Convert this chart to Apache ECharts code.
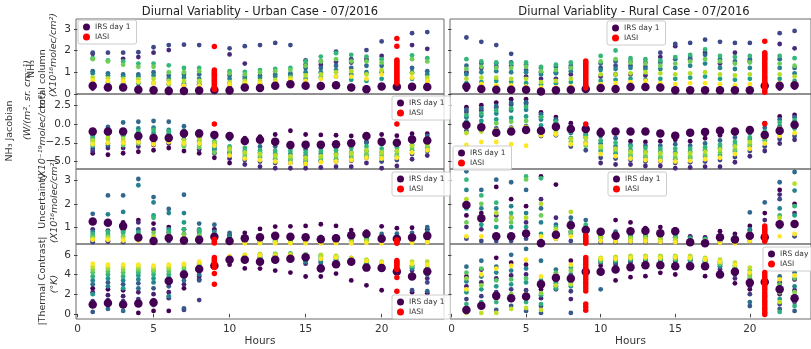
<!DOCTYPE html>
<html><head><meta charset="utf-8">
<script src="https://cdn.jsdelivr.net/npm/echarts@6/dist/echarts.min.js"></script>
<style>html,body{margin:0;padding:0;background:#fff}#c{width:811px;height:349px}</style>
</head><body><div id="c"></div><script>
// ---------------- DATA ----------------
const hours = [1,2,3,4,5,6,7,8,9,10,11,12,13,14,15,16,17,18,19,20,21,22,23];
const hourTicks = [0,5,10,15,20];
const nh3Ticks = [0,1,2,3];
const jacTicks = [-5,-2.5,0,2.5];
const uncTicks = [1,2,3];
const tcTicks = [0,2,4,6];
const iasiHours = [9,21];

// per-hour values, ordered by day (early -> late)
const urbanNH3 = [
 [0.25,1.85,1.9,1.05,0.95,0.45,1.65,1.6,0.75,0.62],
 [0.3,0.45,1.9,0.95,0.85,0.55,1.55,1.5,0.72,0.6],
 [0.3,1.62,1.9,0.9,0.8,0.5,1.5,1.35,0.7,0.58],
 [0.3,1.7,1.92,0.9,0.8,0.5,1.4,1.25,0.68,0.55],
 [0.25,1.9,2.15,1.0,0.85,0.5,1.4,1.25,0.7,0.5],
 [0.25,2.02,2.25,0.85,0.7,0.45,1.32,1.0,0.6,0.48],
 [0.2,0.4,2.27,0.9,0.75,0.5,1.2,1.0,0.6,0.38],
 [0.25,0.45,2.25,0.9,0.7,0.55,1.2,1.05,0.6,0.4],
 [],
 [0.3,1.82,2.1,0.85,0.7,0.5,1.05,0.95,0.55,0.45],
 [0.3,1.4,2.2,0.8,0.7,0.5,1.02,0.9,0.6,0.5],
 [0.3,0.4,2.25,0.85,0.75,0.5,1.1,1.0,0.6,0.5],
 [0.35,0.45,2.35,0.9,0.8,0.55,1.15,1.05,0.65,0.55],
 [0.4,0.5,2.25,0.95,0.85,0.6,1.2,1.1,0.75,0.65],
 [0.4,1.35,1.55,1.2,1.0,0.7,1.5,1.3,0.85,0.6],
 [0.45,1.35,1.5,1.2,1.0,0.75,1.72,1.5,0.9,0.7],
 [0.45,1.48,1.95,1.3,1.1,0.8,1.88,1.6,1.0,0.8],
 [0.35,1.45,1.6,1.2,0.9,0.65,1.8,1.5,1.05,0.8],
 [0.3,1.6,2.02,1.3,1.0,0.6,1.72,1.5,0.9,0.7],
 [0.4,1.75,2.42,1.3,1.0,0.7,1.6,1.45,1.1,0.9],
 [],
 [0.4,2.25,2.8,1.2,1.0,0.7,1.78,1.6,0.95,0.75],
 [0.4,2.08,2.85,1.05,0.9,0.6,1.65,1.5,0.75,0.6]
];
const urbanNH3IRS = [0.38,0.3,0.3,0.2,0.17,0.14,0.14,0.16,0.18,0.16,0.3,0.28,0.38,0.45,0.38,0.37,0.4,0.3,0.22,0.35,0.33,0.33,0.32];
const urbanNH3IASI9 = [2.18,1.1,1.04,0.97,0.92,0.86,0.79,0.74,0.67,0.61,0.56,0.49,0.43,0.38,0.31,0.26,0.21];
const urbanNH3IASI21 = [2.55,2.2,1.56,1.49,1.42,1.33,1.27,1.18,1.1,1.02,0.95,0.87,0.8,0.71,0.64,0.57,0.5];

const urbanJac = [
 [-3.9,-3.6,-3.3,-1.5,-2.0,-2.9,-1.8,-2.4,-2.2,-2.7],
 [-4.1,-3.2,-2.9,-0.4,-1.4,-2.6,-1.2,-2.0,-1.8,-2.5],
 [-3.9,-3.2,-1.5,0.2,-0.9,-2.4,-1.6,-2.8,-2.0,-2.5],
 [-3.7,-3.0,-2.2,0.3,-0.6,-1.5,-1.0,-2.6,-1.9,-2.4],
 [-3.5,-2.8,-1.8,0.4,-0.5,-1.2,-0.8,-2.5,-2.2,-2.7],
 [-3.2,-2.6,-1.5,0.3,-0.8,-1.3,-1.0,-2.3,-1.9,-2.4],
 [-3.6,-2.8,-2.0,-0.3,-0.9,-1.6,-2.5,-3.0,-2.2,-2.6],
 [-3.9,-3.4,-1.8,-1.0,-2.2,-2.8,-2.5,-3.1,-2.0,-2.6],
 [-4.5,-3.9,-3.4,-2.6,-3.0,-3.3,-2.3,-3.8,-2.5,-2.9],
 [-5.2,-4.6,-3.8,-2.0,-3.2,-4.0,-3.0,-3.6,-3.3,-4.2],
 [-1.9,-5.4,-4.8,-2.5,-3.6,-4.4,-3.2,-4.0,-3.8,-4.6],
 [-1.7,-5.7,-5.0,-3.0,-3.8,-4.5,-3.5,-4.2,-4.0,-4.8],
 [-1.4,-5.9,-5.2,-3.0,-4.0,-4.7,-3.6,-4.4,-4.2,-5.0],
 [-0.9,-5.9,-5.2,-3.2,-4.0,-4.8,-3.6,-4.6,-4.3,-5.2],
 [-1.4,-5.9,-5.3,-3.4,-4.2,-5.0,-3.8,-4.7,-4.5,-5.3],
 [-1.45,-5.8,-5.0,-3.2,-4.0,-4.8,-3.6,-4.5,-4.3,-5.1],
 [-1.5,-5.7,-5.0,-3.2,-4.0,-4.7,-3.5,-4.4,-4.1,-5.0],
 [-1.6,-5.7,-4.9,-2.6,-3.8,-4.5,-3.2,-4.2,-3.9,-4.8],
 [-2.4,-5.2,-4.5,-2.5,-3.6,-4.2,-3.0,-4.0,-3.5,-4.5],
 [-1.4,-5.9,-5.0,-2.7,-3.8,-4.6,-3.3,-4.2,-3.8,-4.6],
 [-1.55,-5.6,-4.8,-2.5,-3.6,-4.3,-3.1,-4.0,-3.6,-4.5],
 [-1.3,-4.7,-4.0,-1.8,-2.8,-3.5,-2.4,-3.2,-2.9,-3.8],
 [-1.3,-4.2,-3.6,-1.6,-2.6,-3.2,-2.2,-3.0,-2.7,-3.5]
];
const urbanJacIRS = [-1.0,-1.0,-1.0,-1.6,-1.85,-1.85,-1.25,-1.25,-1.45,-1.6,-2.25,-2.1,-2.35,-2.8,-2.75,-2.75,-2.7,-2.55,-1.6,-2.35,-2.5,-2.05,-2.2];
const urbanJacIASI9 = [0.0];
const urbanJacIASI21 = [0.0];

const urbanUnc = [
 [0.4,0.9,0.35,1.57,0.8,0.6,0.7,0.55,0.5,0.45],
 [0.38,0.85,0.4,2.36,1.55,0.7,0.8,0.6,0.52,0.45],
 [1.2,0.85,0.35,2.36,1.65,0.75,0.8,0.6,0.5,0.42],
 [1.3,1.2,0.9,3.07,2.8,0.8,0.75,0.6,0.5,0.42],
 [1.15,0.9,0.4,2.29,2.06,1.5,1.4,0.75,0.6,0.5],
 [1.0,0.75,0.4,1.78,1.6,0.9,0.8,0.65,0.55,0.45],
 [0.9,0.7,0.35,2.39,1.6,1.2,0.9,0.7,0.55,0.45],
 [0.8,0.6,0.35,1.15,0.9,0.7,0.85,0.65,0.5,0.42],
 [0.9,0.6,0.35,1.1,0.8,0.6,0.7,0.55,0.45,0.38],
 [0.65,0.5,0.35,0.75,0.6,0.45,0.5,0.42,0.38,0.32],
 [0.75,0.5,0.35,0.6,0.5,0.4,0.45,0.4,0.35,0.3],
 [0.92,0.5,0.35,0.6,0.5,0.4,0.45,0.4,0.35,0.3],
 [1.02,0.5,0.38,0.6,0.5,0.42,0.48,0.4,0.35,0.3],
 [1.03,0.5,0.38,0.62,0.5,0.42,0.48,0.4,0.35,0.3],
 [1.05,0.5,0.38,0.6,0.5,0.42,0.48,0.4,0.35,0.3],
 [1.12,0.5,0.36,0.58,0.48,0.4,0.45,0.38,0.34,0.3],
 [1.05,0.5,0.36,0.6,0.5,0.42,0.46,0.4,0.35,0.3],
 [0.87,0.55,0.38,0.7,0.55,0.45,0.5,0.42,0.36,0.3],
 [0.8,0.75,0.4,0.7,0.6,0.48,0.52,0.44,0.38,0.32],
 [1.03,0.55,0.38,0.7,0.58,0.45,0.5,0.42,0.36,0.3],
 [0.95,0.55,0.38,0.72,0.6,0.46,0.52,0.42,0.36,0.3],
 [0.97,0.6,0.4,0.75,0.62,0.5,0.55,0.45,0.38,0.32],
 [0.9,0.7,0.45,1.0,0.8,0.6,0.65,0.5,0.4,0.34]
];
const urbanUncIRS = [1.24,1.19,1.04,0.55,0.4,0.53,0.42,0.45,0.58,0.4,0.52,0.56,0.62,0.58,0.56,0.47,0.52,0.65,0.7,0.5,0.5,0.55,0.62];
const urbanUncIASI9 = [0.47,0.41,0.36,0.31];
const urbanUncIASI21 = [0.44,0.39,0.34,0.3];

const urbanTC = [
 [2.6,2.2,1.3,0.2,3.0,3.4,2.0,3.8,4.2,4.5,4.8,5.1],
 [2.5,1.9,1.4,3.2,0.5,2.8,3.6,4.0,4.3,4.6,4.8,5.0],
 [2.4,1.8,1.3,3.0,0.3,3.4,2.6,3.8,4.2,4.5,4.8,5.0],
 [0.1,2.2,1.5,3.1,2.6,3.5,3.9,4.2,4.4,4.6,4.85,5.0],
 [0.3,2.0,1.4,2.6,0.9,3.2,3.6,4.0,4.3,4.5,4.75,4.9],
 [0.3,2.2,1.6,2.8,3.2,1.8,3.7,4.0,4.3,4.6,4.8,5.0],
 [2.6,3.0,0.4,0.55,3.4,3.8,4.1,4.4,4.6,4.8,5.0,5.1],
 [3.5,3.8,1.4,3.4,4.0,4.3,4.6,4.8,5.0,5.1,5.2,5.3],
 [],
 [5.0,5.3,5.4,5.5,5.6,5.65,5.7,5.75,5.8,5.85],
 [4.62,5.45,5.6,5.72,5.55,5.8,5.9,5.78,6.0,5.95],
 [4.6,5.3,5.5,5.75,5.6,5.9,6.05,5.8,6.1,5.95],
 [4.4,5.4,5.6,5.8,5.65,5.95,6.1,5.85,6.05,5.9],
 [4.2,5.5,5.7,5.85,5.75,6.0,6.15,5.9,6.05,5.95],
 [3.8,5.1,5.4,5.6,5.3,5.8,6.05,5.9,6.0,5.7],
 [3.8,4.9,5.2,5.5,5.3,5.7,5.95,5.8,6.0,5.6],
 [4.1,5.0,5.3,5.5,5.4,5.6,5.85,5.7,5.9,5.75],
 [3.4,5.2,5.3,5.45,5.35,5.5,5.65,5.55,5.7,5.6],
 [2.9,4.8,4.95,5.1,5.0,5.2,5.4,5.3,5.5,5.35],
 [2.4,4.7,4.8,4.95,4.85,5.0,5.15,5.05,5.3,5.2],
 [],
 [2.2,4.4,2.4,4.7,4.6,4.8,4.95,4.9,5.3,5.1],
 [2.1,3.6,3.2,2.3,4.0,4.2,4.5,4.7,5.3,5.0]
];
const urbanTCIRS = [0.95,1.1,0.95,1.05,1.15,3.35,4.0,4.55,4.9,5.5,5.5,5.3,5.5,5.6,5.75,4.6,5.05,5.3,4.7,4.65,4.3,3.8,4.3];
const urbanTCIASI9 = [5.72,5.58,5.43,5.29,5.12,4.97,4.72,4.1,3.0];
const urbanTCIASI21 = [5.42,5.3,5.16,5.01,4.86,4.71,4.5,3.7,2.3];

const ruralNH3 = [
 [0.2,1.0,2.6,1.3,0.9,0.5,1.6,1.15,0.7,0.4],
 [0.25,1.2,2.4,1.4,1.0,0.55,1.5,1.25,0.75,0.45],
 [0.2,1.25,2.25,1.4,1.05,0.6,1.45,1.2,0.75,0.4],
 [0.2,1.3,1.85,1.45,1.0,0.55,1.4,1.2,0.7,0.4],
 [0.15,0.8,1.1,1.35,1.0,0.5,1.45,1.25,0.7,0.35],
 [0.1,0.7,1.0,1.2,0.9,0.45,1.25,1.05,0.55,0.3],
 [0.15,0.7,1.0,1.25,0.95,0.5,1.35,1.1,0.6,0.3],
 [0.15,0.9,1.2,1.3,1.05,0.55,1.45,1.2,0.7,0.35],
 [],
 [0.2,0.8,1.2,1.4,1.1,0.6,1.75,1.5,0.9,0.45],
 [0.2,0.9,1.3,1.5,1.15,0.65,2.0,1.6,0.9,0.5],
 [0.25,0.9,1.3,1.5,1.2,0.7,1.65,1.45,0.95,0.55],
 [0.25,0.85,1.25,1.45,1.15,0.65,1.6,1.4,1.0,0.6],
 [0.25,1.7,1.9,1.45,1.15,0.7,1.55,1.3,0.95,0.5],
 [0.15,2.2,2.3,1.6,1.2,0.7,1.7,1.4,0.9,0.45],
 [0.2,1.6,2.35,1.7,1.3,0.75,1.8,1.5,0.95,0.5],
 [0.2,1.9,2.5,1.8,1.4,0.8,2.05,1.6,1.0,0.5],
 [0.2,1.4,2.4,1.6,1.2,0.7,1.75,1.5,0.9,0.45],
 [0.2,1.9,2.35,1.5,1.15,0.65,1.7,1.4,0.85,0.4],
 [0.2,1.5,2.35,1.6,1.2,0.7,1.75,1.45,0.9,0.45],
 [],
 [0.25,2.3,2.8,1.6,1.2,0.7,1.75,1.4,0.9,0.5],
 [0.3,2.1,2.9,1.2,0.95,0.6,1.65,1.3,0.8,0.5]
];
const ruralNH3IRS = [0.35,0.23,0.2,0.2,0.2,0.12,0.17,0.2,0.23,0.28,0.23,0.32,0.32,0.3,0.17,0.17,0.17,0.17,0.17,0.17,0.38,0.38,0.4];
const ruralNH3IASI9 = [1.52,1.45,1.37,1.28,1.2,1.12,1.03,0.95,0.87,0.78,0.7,0.62,0.53,0.45,0.37,0.29];
const ruralNH3IASI21 = [2.43,1.9,1.83,1.74,1.65,1.57,1.47,1.38,1.29,1.2,1.1,1.01,0.92,0.82,0.73,0.63,0.54,0.44,0.35,0.26,0.17,0.08];

const ruralJac = [
 [2.25,1.6,-0.9,1.9,0.9,0.3,1.2,-0.4,-1.2,-2.8],
 [2.5,1.8,-0.8,2.1,1.1,0.4,1.4,-0.2,-1.0,-2.4],
 [2.86,2.2,-0.6,2.4,1.4,0.6,1.8,0.1,-0.8,-2.4],
 [3.3,2.6,-0.5,2.8,1.8,0.8,2.1,0.3,-0.6,-2.7],
 [3.3,2.7,-0.3,2.9,1.9,1.0,2.3,0.4,-0.4,-2.9],
 [1.54,1.0,-1.6,1.3,0.6,-0.2,0.9,-0.7,-1.2,-1.5],
 [0.93,0.5,-1.5,0.6,0.2,-0.5,0.3,-0.9,-1.2,-1.4],
 [0.1,-0.3,-3.0,-0.5,-1.2,-1.9,-1.0,-2.4,-2.0,-2.7],
 [-0.8,-1.4,-3.5,-1.0,-1.8,-2.5,-1.5,-2.9,-1.9,-2.6],
 [-0.8,-5.2,-4.5,-1.6,-2.6,-3.6,-2.2,-3.2,-3.0,-4.0],
 [-1.2,-5.4,-4.6,-1.9,-3.0,-3.9,-2.5,-3.5,-3.3,-4.3],
 [-2.3,-5.4,-4.8,-2.8,-3.5,-4.3,-3.0,-4.0,-3.7,-4.6],
 [-2.4,-5.6,-5.0,-2.9,-3.7,-4.5,-3.2,-4.2,-3.8,-4.8],
 [-2.3,-5.6,-5.0,-2.9,-3.7,-4.6,-3.3,-4.3,-3.9,-4.9],
 [-2.1,-5.9,-5.2,-2.7,-3.8,-4.7,-3.3,-4.4,-4.0,-5.0],
 [-2.3,-5.8,-5.1,-2.9,-3.7,-4.6,-3.3,-4.3,-3.9,-4.9],
 [-1.9,-5.7,-5.0,-2.6,-3.5,-4.4,-3.1,-4.1,-3.7,-4.7],
 [-1.5,-5.7,-4.8,-2.2,-3.2,-4.2,-2.8,-3.8,-3.4,-4.5],
 [-1.2,-5.1,-4.4,-1.8,-2.8,-3.7,-2.4,-3.4,-3.0,-4.0],
 [-0.6,-4.3,-3.6,-1.2,-2.1,-3.0,-1.8,-2.7,-2.4,-3.3],
 [0.1,-3.6,-3.0,-0.5,-1.3,-2.2,-1.0,-2.0,-1.7,-2.6],
 [1.0,-2.6,-2.0,0.6,-0.3,-1.2,0.2,-0.8,-0.6,-1.6],
 [1.2,-2.1,-1.6,0.9,0.2,-0.6,0.5,-0.4,-0.2,-1.2]
];
const ruralJacIRS = [-0.13,-0.44,-1.15,-1.0,-0.8,-0.9,-0.35,-0.66,-0.66,-1.15,-1.0,-1.0,-1.0,-1.25,-1.55,-1.15,-1.05,-0.9,-1.0,-0.8,-1.45,-0.9,-0.1];
const ruralJacIASI9 = [0.0];
const ruralJacIASI21 = [0.05];

const ruralUnc = [
 [1.5,1.0,0.5,3.4,2.6,1.8,3.04,1.2,2.2,0.6],
 [1.6,0.9,0.4,2.6,1.8,1.1,2.36,2.0,1.4,0.6],
 [2.73,1.5,0.4,3.04,1.8,1.0,2.05,1.3,1.6,0.6],
 [2.2,1.4,0.4,2.93,1.9,1.0,1.6,1.2,1.4,0.6],
 [1.9,1.2,0.5,2.6,1.6,1.0,3.18,3.05,1.4,0.7],
 [3.18,2.2,0.4,1.8,1.2,0.7,3.1,1.5,2.0,0.6],
 [2.83,1.4,0.5,1.1,0.8,0.6,1.0,0.7,0.9,0.5],
 [1.2,0.8,0.4,1.4,1.0,0.7,1.2,0.8,1.65,0.6],
 [1.0,0.7,0.4,1.3,0.9,0.6,1.1,0.8,0.7,0.5],
 [0.8,0.6,0.35,0.85,0.65,0.5,0.75,0.6,0.55,0.4],
 [1.3,0.6,0.35,0.8,0.6,0.45,0.7,0.55,0.5,0.38],
 [1.2,0.6,0.35,0.8,0.6,0.45,0.7,0.55,0.5,0.38],
 [0.95,0.6,0.35,0.75,0.6,0.45,0.7,0.55,0.5,0.38],
 [1.0,0.6,0.35,0.75,0.6,0.45,0.65,0.52,0.48,0.36],
 [0.9,0.55,0.35,0.7,0.55,0.42,0.62,0.5,0.45,0.34],
 [0.6,0.45,0.3,0.55,0.45,0.35,0.5,0.4,0.42,0.32],
 [0.55,0.42,0.3,0.5,0.42,0.35,0.48,0.38,0.4,0.3],
 [0.82,0.5,0.32,0.6,0.48,0.38,0.55,0.42,0.45,0.32],
 [0.7,0.48,0.32,0.58,0.46,0.36,0.52,0.4,0.44,0.3],
 [1.05,0.85,0.4,1.63,0.9,0.55,0.75,0.6,0.7,0.4],
 [1.6,1.3,0.45,2.06,1.0,0.6,0.8,0.6,0.75,0.4],
 [2.6,2.4,2.2,2.93,1.8,1.0,1.5,1.2,1.4,0.6],
 [2.0,1.6,0.6,3.37,2.57,1.5,1.9,1.2,2.87,0.7]
];
const ruralUncIRS = [1.95,1.38,0.6,0.6,0.72,0.3,0.67,1.08,0.87,0.8,0.63,0.82,0.84,0.73,0.82,0.35,0.3,0.56,0.46,0.63,0.56,1.12,1.13];
const ruralUncIASI9 = [0.64,0.56,0.49,0.42,0.36,0.3];
const ruralUncIASI21 = [1.04,0.95,0.86,0.76,0.67,0.57,0.47,0.39];

const ruralTC = [
 [3.8,2.8,1.5,0.6,4.8,3.3,2.2,1.0,4.2,3.6,0.1,2.5],
 [4.5,3.2,1.8,0.7,5.4,3.8,2.5,1.2,4.6,2.9,0.1,4.0],
 [5.7,3.6,2.2,0.4,4.8,4.2,2.8,1.2,3.4,1.6,0.1,4.6],
 [5.2,3.9,2.5,0.8,6.0,4.4,3.0,1.4,3.5,2.0,0.5,4.9],
 [5.0,4.0,2.4,0.3,6.6,4.6,3.2,1.2,3.6,2.0,0.6,5.5],
 [2.5,1.6,0.8,0.1,5.4,3.4,1.9,1.0,3.0,2.1,0.4,3.8],
 [4.0,3.3,2.5,2.8,4.5,3.7,3.1,2.6,4.2,3.5,2.9,3.9],
 [5.4,1.5,2.3,0.1,4.0,3.2,2.8,4.7,3.6,4.4,3.0,5.0],
 [],
 [4.9,5.2,5.4,2.5,5.5,5.3,5.6,5.4,5.7,5.6],
 [3.4,5.0,5.2,5.3,5.5,5.4,5.7,5.5,5.8,5.6],
 [3.73,5.2,5.4,5.5,5.6,5.5,5.8,5.6,5.9,5.7],
 [3.83,5.3,5.5,5.6,5.7,5.5,5.85,5.65,5.9,5.75],
 [4.17,5.2,5.4,5.6,5.7,5.5,5.85,5.6,5.9,5.7],
 [4.0,5.3,5.4,5.6,5.7,5.5,5.85,5.6,5.9,5.75],
 [5.0,5.2,5.4,5.5,5.6,5.45,5.8,5.6,5.9,5.7],
 [3.83,5.0,5.2,5.35,5.5,5.3,5.6,5.45,5.7,5.55],
 [4.2,4.5,4.8,5.0,5.2,4.9,5.35,5.1,5.5,5.3],
 [3.1,3.6,4.0,4.3,4.6,4.4,4.9,4.7,5.2,5.0],
 [2.5,2.8,2.0,0.8,1.2,3.2,3.6,4.0,4.4,3.8,4.7,4.2],
 [],
 [3.2,2.0,1.0,0.5,3.8,2.6,1.5,0.2,3.0,2.2,1.2,3.5],
 [3.5,2.4,1.2,0.3,4.2,2.8,1.8,0.8,3.6,2.2,1.4,3.9]
];
const ruralTCIRS = [0.4,0.83,1.83,1.6,1.77,3.0,3.67,3.6,4.27,4.27,4.5,4.73,4.93,4.93,4.83,4.83,4.83,4.0,4.27,3.17,3.23,2.5,1.6];
const ruralTCIASI9 = [5.72,5.5,5.27,5.04,4.8,4.56,4.31,4.05,3.78,3.5,3.22,2.93,2.62,2.32,1.0,0.7,0.38];
const ruralTCIASI21 = [4.2,3.96,3.71,3.45,3.2,2.94,2.69,2.44,2.18,1.93,1.68,1.42,1.17,0.92,0.66,0.41,0.16,-0.06];

// ---------------- LAYOUT / STYLE ----------------
const FONT = 'DejaVu Sans';
const colLeft = [76, 450];
const rowTop = [19, 94, 169, 244];
const W = 368, H = 75;
const rowCfg = [
  {min:0, max:3.45, ticks:nh3Ticks, fmt:v=>String(v)},
  {min:-6, max:4, ticks:jacTicks, fmt:v=>v.toFixed(1).replace('-','\u2212')},
  {min:0.27, max:3.5, ticks:uncTicks, fmt:v=>String(v)},
  {min:-0.52, max:7.1, ticks:tcTicks, fmt:v=>String(v)}
];
const panels = [
  {c:0,r:0,s:urbanNH3,irs:urbanNH3IRS,a:[urbanNH3IASI9,urbanNH3IASI21],lg:[78,20]},
  {c:0,r:1,s:urbanJac,irs:urbanJacIRS,a:[urbanJacIASI9,urbanJacIASI21],lg:[392,96]},
  {c:0,r:2,s:urbanUnc,irs:urbanUncIRS,a:[urbanUncIASI9,urbanUncIASI21],lg:[392,172]},
  {c:0,r:3,s:urbanTC,irs:urbanTCIRS,a:[urbanTCIASI9,urbanTCIASI21],lg:[392,295]},
  {c:1,r:0,s:ruralNH3,irs:ruralNH3IRS,a:[ruralNH3IASI9,ruralNH3IASI21],lg:[607,21]},
  {c:1,r:1,s:ruralJac,irs:ruralJacIRS,a:[ruralJacIASI9,ruralJacIASI21],lg:[453,146]},
  {c:1,r:2,s:ruralUnc,irs:ruralUncIRS,a:[ruralUncIASI9,ruralUncIASI21],lg:[608,172]},
  {c:1,r:3,s:ruralTC,irs:ruralTCIRS,a:[ruralTCIASI9,ruralTCIASI21],lg:[763,247]}
];
const viridis = ['#440154','#482878','#3e4989','#31688e','#26828e','#1f9e89','#35b779','#6ece58','#b5de2b','#fde725'];

const grid=[], xAxis=[], yAxis=[], series=[], legend=[], scatIdx=[];
panels.forEach((p,i)=>{
  const rc = rowCfg[p.r];
  const bottom = p.r===3;
  grid.push({left:colLeft[p.c], top:rowTop[p.r], width:W, height:H, show:true,
    borderColor:'#6a6a6a', borderWidth:1, backgroundColor:'transparent'});
  xAxis.push({type:'value', gridIndex:i, min:-0.1, max:24.1,
    axisLine:{show:false}, splitLine:{show:false},
    axisTick:{show:bottom, customValues:hourTicks, length:3.5, lineStyle:{color:'#444'}},
    axisLabel:{show:bottom, customValues:hourTicks, fontSize:10.5, color:'#333', fontFamily:FONT, margin:5},
    name: bottom?'Hours':'', nameLocation:'middle', nameGap:17,
    nameTextStyle:{fontSize:10.5, color:'#333', fontFamily:FONT}});
  yAxis.push({type:'value', gridIndex:i, min:rc.min, max:rc.max,
    axisLine:{show:false}, splitLine:{show:false},
    axisTick:{show:true, customValues:rc.ticks, length:3.5, lineStyle:{color:'#444'}},
    axisLabel:{show:p.c===0, customValues:rc.ticks, formatter:rc.fmt, fontSize:10.5, color:'#333', fontFamily:FONT, margin:5}});
  const sd=[];
  p.s.forEach((vals,k)=>{ const n=vals.length; vals.forEach((v,j)=>sd.push([hours[k], v, n>1? j/(n-1):0])); });
  scatIdx.push(series.length);
  series.push({type:'scatter', name:'days', xAxisIndex:i, yAxisIndex:i, data:sd, symbolSize:4.8, z:2, silent:true,
    itemStyle:{opacity:1}});
  series.push({type:'scatter', name:'IRS day 1', xAxisIndex:i, yAxisIndex:i,
    data:p.irs.map((v,k)=>[hours[k],v]), symbolSize:8.5, itemStyle:{color:'#440154', opacity:1}, z:3, silent:true});
  const ad=[]; p.a.forEach((arr,k)=>arr.forEach(v=>ad.push([iasiHours[k],v])));
  series.push({type:'scatter', name:'IASI', xAxisIndex:i, yAxisIndex:i, data:ad, symbolSize:5.5,
    itemStyle:{color:'#ff0000', opacity:1}, z:4, silent:true});
  legend.push({left:p.lg[0], top:p.lg[1], orient:'vertical', selectedMode:false,
    data:[{name:'IRS day 1', itemStyle:{color:'#440154'}},{name:'IASI', itemStyle:{color:'#ff0000'}}],
    icon:'circle', itemWidth:7, itemHeight:7, itemGap:2, padding:[3,6,3,5],
    textStyle:{fontSize:7.5, color:'#333', fontFamily:FONT, lineHeight:8},
    backgroundColor:'rgba(255,255,255,0.8)', borderColor:'#cccccc', borderWidth:1, borderRadius:2});
});

function vtext(x,y,t,italic){
  return {type:'text', x:x, y:y, rotation:Math.PI/2, silent:true,
    style:{text:t, fill:'#333', font:(italic?'italic ':'')+'9.5px "DejaVu Sans"', textAlign:'center', textVerticalAlign:'middle'}};
}
const graphic = [
  {type:'text', x:260, y:12, style:{text:'Diurnal Variablity - Urban Case - 07/2016', fill:'#222', font:'11.5px "DejaVu Sans"', textAlign:'center', textVerticalAlign:'middle'}},
  {type:'text', x:634, y:12, style:{text:'Diurnal Variablity - Rural Case - 07/2016', fill:'#222', font:'11.5px "DejaVu Sans"', textAlign:'center', textVerticalAlign:'middle'}},
  vtext(32,69,'NH\u2083',false),
  vtext(43,79,'total column',false),
  vtext(54,55,'(X10\u00b9\u2076molec/cm\u00b2)',true),
  vtext(10,131,'NH\u2083 Jacobian',false),
  vtext(28,100,'(W/(m\u00b2. sr. cm\u207b\u00b9)',true),
  vtext(43,136,'(X10\u207b\u00b9\u2079molec/cm\u00b2)',true),
  vtext(43,201,'Uncertainty',false),
  vtext(55,201,'(X10\u00b9\u2076molec/cm\u00b2)',true),
  vtext(43,281,'|Thermal Contrast|',false),
  vtext(55,284,'(\u00b0K)',true)
];

const chart = echarts.init(document.getElementById('c'), null, {renderer:'canvas'});
chart.setOption({
  animation:false, backgroundColor:'#fff',
  textStyle:{fontFamily:FONT},
  grid, xAxis, yAxis, series, legend, graphic,
  visualMap:{type:'continuous', show:false, dimension:2, min:0, max:1, seriesIndex:scatIdx, inRange:{color:viridis}}
});
</script></body></html>
